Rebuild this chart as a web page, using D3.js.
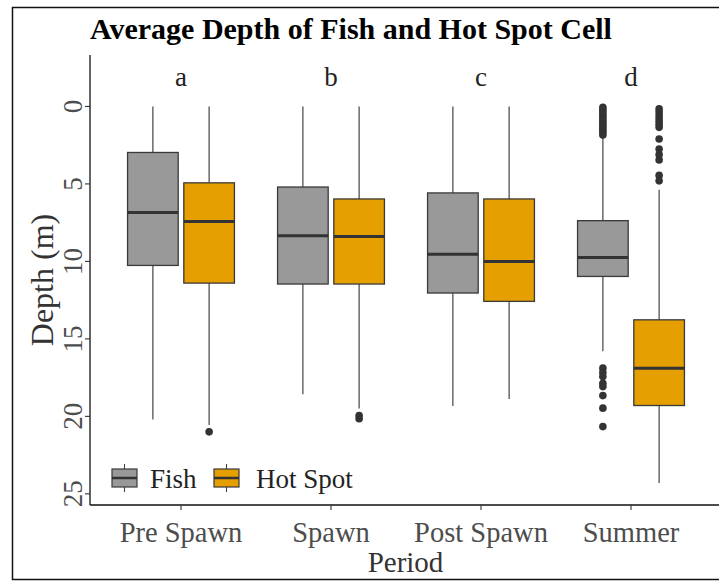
<!DOCTYPE html>
<html><head><meta charset="utf-8">
<script src="https://cdn.jsdelivr.net/npm/d3@7"></script>
<style>body{margin:0;background:#fff}svg{display:block}text{font-family:"Liberation Serif","Times New Roman",serif}</style>
</head><body><svg id="c" width="719" height="582"></svg>
<script>
const periods = ["Pre Spawn","Spawn","Post Spawn","Summer"];
const groups = ["Fish","Hot Spot"];
const letters = ["a","b","c","d"];
const letterDepth = -2;
const yTicks = [0,5,10,15,20,25];

// Fish series (depth, m)
const fishWhiskerTop = [0, 0, 0, 2.1];
const fishQ1 = [2.97, 5.2, 5.58, 7.37];
const fishMedian = [6.85, 8.34, 9.54, 9.74];
const fishQ3 = [10.26, 11.46, 12.04, 10.97];
const fishWhiskerBottom = [20.2, 18.57, 19.33, 15.8];
const fishOutliers = [[], [], [],
  [0.05,0.2,0.35,0.5,0.65,0.8,0.95,1.1,1.25,1.4,1.55,1.7,1.85,16.89,17.17,17.43,17.86,18.08,18.66,19.47,20.66]];

// Hot Spot series (depth, m)
const hotWhiskerTop = [0, 0, 0, 5.37];
const hotQ1 = [4.93, 5.97, 5.97, 13.77];
const hotMedian = [7.43, 8.4, 10.0, 16.9];
const hotQ3 = [11.4, 11.46, 12.58, 19.3];
const hotWhiskerBottom = [20.56, 19.5, 18.88, 24.3];
const hotOutliers = [[21.0], [19.95,20.15], [],
  [0.15,0.35,0.55,0.75,0.95,1.15,1.35,2.1,2.75,3.1,3.45,4.45,4.8]];

const colors = {"Fish":"#999999","Hot Spot":"#E69F00"};

const rows = [];
periods.forEach((p,i)=>{
  rows.push({period:p, group:"Fish", lo:fishWhiskerTop[i], q1:fishQ1[i], med:fishMedian[i], q3:fishQ3[i], hi:fishWhiskerBottom[i], out:fishOutliers[i]});
  rows.push({period:p, group:"Hot Spot", lo:hotWhiskerTop[i], q1:hotQ1[i], med:hotMedian[i], q3:hotQ3[i], hi:hotWhiskerBottom[i], out:hotOutliers[i]});
});

const svg = d3.select("#c");
const L = 90, R = 721, T = 55, B = 505;

// outer border
svg.append("rect").attr("x",12.5).attr("y",7.5).attr("width",720).attr("height",572)
  .attr("fill","none").attr("stroke","#111").attr("stroke-width",1.5);

const dataMin = -2, dataMax = 24.4, ex = (dataMax-dataMin)*0.05;
const y = d3.scaleLinear().domain([dataMin-ex, dataMax+ex]).range([T, B]);
const x = d3.scalePoint().domain(periods).range([L+1, R]).padding(0.6);
const step = x.step();
const xg = d3.scaleBand().domain(groups).range([-0.375*step, 0.375*step]).paddingInner(0.1).paddingOuter(0.05);
const bw = xg.bandwidth();

// title
svg.append("text").attr("x",90).attr("y",39).attr("font-size",30).attr("font-weight","bold")
  .attr("fill","#000").text("Average Depth of Fish and Hot Spot Cell");

// boxes
const g = svg.append("g");
rows.forEach(r=>{
  const cx = x(r.period) + xg(r.group) + bw/2;
  g.append("line").attr("x1",cx).attr("x2",cx).attr("y1",y(r.lo)).attr("y2",y(r.q1))
    .attr("stroke","#444").attr("stroke-width",1.2);
  g.append("line").attr("x1",cx).attr("x2",cx).attr("y1",y(r.q3)).attr("y2",y(r.hi))
    .attr("stroke","#444").attr("stroke-width",1.2);
  g.append("rect").attr("x",cx-bw/2).attr("y",y(r.q1)).attr("width",bw).attr("height",y(r.q3)-y(r.q1))
    .attr("fill",colors[r.group]).attr("stroke","#3a3a3a").attr("stroke-width",1.3);
  g.append("line").attr("x1",cx-bw/2).attr("x2",cx+bw/2).attr("y1",y(r.med)).attr("y2",y(r.med))
    .attr("stroke","#333").attr("stroke-width",3);
  r.out.forEach(v=>{
    g.append("circle").attr("cx",cx).attr("cy",y(v)).attr("r",3.8).attr("fill","#333");
  });
});

// letters
svg.selectAll(".let").data(periods).enter().append("text")
  .attr("x",d=>x(d)).attr("y",y(letterDepth)+11).attr("text-anchor","middle")
  .attr("font-size",27).attr("fill","#222").text((d,i)=>letters[i]);

// axes
svg.append("line").attr("x1",L).attr("x2",L).attr("y1",T).attr("y2",B).attr("stroke","#111").attr("stroke-width",1.3);
svg.append("line").attr("x1",L).attr("x2",R).attr("y1",B).attr("y2",B).attr("stroke","#111").attr("stroke-width",1.3);
yTicks.forEach(t=>{
  svg.append("line").attr("x1",L-5).attr("x2",L).attr("y1",y(t)).attr("y2",y(t)).attr("stroke","#333").attr("stroke-width",1.1);
  svg.append("text").attr("transform",`translate(82,${y(t)}) rotate(-90)`).attr("text-anchor","middle")
    .attr("font-size",27).attr("fill","#4d4d4d").text(t);
});
periods.forEach(p=>{
  svg.append("line").attr("x1",x(p)).attr("x2",x(p)).attr("y1",B).attr("y2",B+5).attr("stroke","#333").attr("stroke-width",1.1);
  svg.append("text").attr("x",x(p)).attr("y",542).attr("text-anchor","middle")
    .attr("font-size",28.5).attr("fill","#4d4d4d").text(p);
});
svg.append("text").attr("x",(L+R)/2).attr("y",572).attr("text-anchor","middle")
  .attr("font-size",29).attr("fill","#333").text("Period");
svg.append("text").attr("transform",`translate(53,${(T+B)/2}) rotate(-90)`).attr("text-anchor","middle")
  .attr("font-size",32).attr("fill","#333").text("Depth (m)");

// legend
const legX = [112, 214], legT = ["Fish","Hot Spot"], legTx = [150, 256];
groups.forEach((gname,i)=>{
  const lx = legX[i], w = 25, cx = lx + w/2;
  svg.append("line").attr("x1",cx).attr("x2",cx).attr("y1",464).attr("y2",492).attr("stroke","#444").attr("stroke-width",1.1);
  svg.append("rect").attr("x",lx).attr("y",469).attr("width",w).attr("height",18)
    .attr("fill",colors[gname]).attr("stroke","#3a3a3a").attr("stroke-width",1.2);
  svg.append("line").attr("x1",lx).attr("x2",lx+w).attr("y1",478).attr("y2",478).attr("stroke","#333").attr("stroke-width",2.5);
  svg.append("text").attr("x",legTx[i]).attr("y",488).attr("font-size",27).attr("fill","#222").text(legT[i]);
});
</script></body></html>
